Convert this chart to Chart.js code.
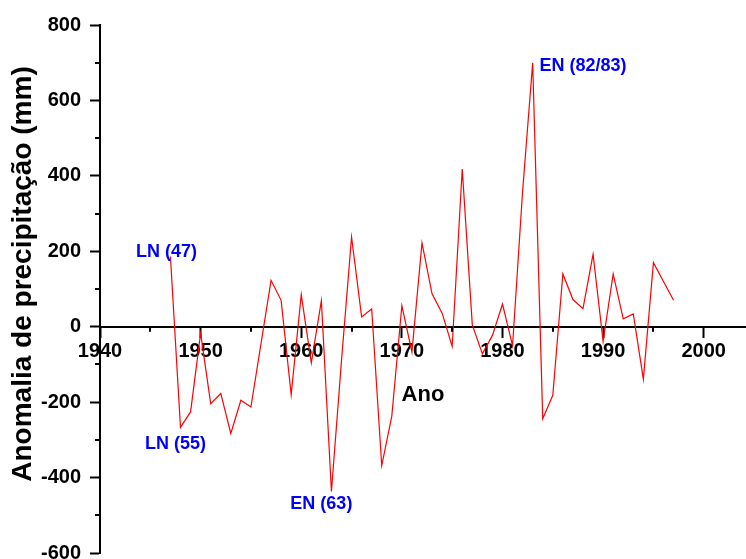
<!DOCTYPE html>
<html>
<head>
<meta charset="utf-8">
<script src="https://cdn.jsdelivr.net/npm/chart.js@4.4.1/dist/chart.umd.min.js"></script>
<style>
  html, body { margin: 0; padding: 0; background: #ffffff; }
  #wrap { position: relative; width: 746px; height: 559px; }
</style>
</head>
<body>
<div id="wrap"><canvas id="c"></canvas></div>
<script>
// ---- data ----
const years = [1947,1948,1949,1950,1951,1952,1953,1954,1955,1956,
               1957,1958,1959,1960,1961,1962,1963,1964,1965,1966,
               1967,1968,1969,1970,1971,1972,1973,1974,1975,1976,
               1977,1978,1979,1980,1981,1982,1983,1984,1985,1986,
               1987,1988,1989,1990,1991,1992,1993,1994,1995,1996,1997];
const anomalies = [186,-267,-226,-17,-204,-177,-283,-195,-213,-45,
                   123,70,-180,85,-96,69,-437,-90,238,26,
                   47,-368,-237,56,-67,222,87,36,-52,418,
                   5,-72,-23,60,-50,360,700,-244,-182,140,
                   72,48,192,-39,140,21,34,-139,170,120,70];
const xTicksMajor = [1940,1950,1960,1970,1980,1990,2000];
const xTicksMinor = [1945,1955,1965,1975,1985,1995];
const yTicksMajor = [-600,-400,-200,0,200,400,600,800];
const yTicksMinor = [-500,-300,-100,100,300,500,700];
const annotationTexts = ['LN (47)','LN (55)','EN (63)','EN (82/83)'];
const annotationYears = [1946.6,1947.5,1962.0,1988.0];
const annotationValues = [199,-310,-469,691];
const xTitle = 'Ano';
const yTitle = 'Anomalia de precipitação (mm)';

const FONT = "'Liberation Sans', Arial, Helvetica, sans-serif";

const minorTicks = {
  id: 'minorTicks',
  afterDraw(chart) {
    const ctx = chart.ctx;
    const xs = chart.scales.x, ys = chart.scales.y;
    const y0 = ys.getPixelForValue(0);
    const left = chart.chartArea.left;
    ctx.save();
    ctx.strokeStyle = '#000';
    ctx.lineWidth = 2;
    ctx.beginPath();
    xTicksMinor.forEach(v => {
      const px = Math.round(xs.getPixelForValue(v));
      ctx.moveTo(px, y0);
      ctx.lineTo(px, y0 + 5);
    });
    yTicksMinor.forEach(v => {
      const py = Math.round(ys.getPixelForValue(v));
      ctx.moveTo(left - 5, py);
      ctx.lineTo(left, py);
    });
    ctx.stroke();
    ctx.restore();
  }
};

const annotations = {
  id: 'annotations',
  afterDatasetsDraw(chart) {
    const ctx = chart.ctx;
    const xs = chart.scales.x, ys = chart.scales.y;
    ctx.save();
    ctx.fillStyle = '#0000ff';
    ctx.font = 'bold 18px ' + FONT;
    ctx.textAlign = 'center';
    ctx.textBaseline = 'middle';
    annotationTexts.forEach((t, i) => {
      ctx.fillText(t, xs.getPixelForValue(annotationYears[i]), ys.getPixelForValue(annotationValues[i]));
    });
    ctx.restore();
  }
};

const yTitlePlugin = {
  id: 'yTitlePlugin',
  afterDraw(chart) {
    const ctx = chart.ctx;
    const ca = chart.chartArea;
    ctx.save();
    ctx.translate(31, ca.top + 249);
    ctx.rotate(-Math.PI / 2);
    ctx.fillStyle = '#000';
    ctx.font = 'bold 28px ' + FONT;
    ctx.textAlign = 'center';
    ctx.textBaseline = 'alphabetic';
    ctx.fillText(yTitle, 0, 0);
    ctx.restore();
  }
};

const points = years.map((y, i) => ({ x: y, y: anomalies[i] }));

new Chart(document.getElementById('c'), {
  type: 'line',
  data: {
    datasets: [{
      data: points,
      borderColor: '#ff0000',
      borderWidth: 1.2,
      pointRadius: 0,
      tension: 0,
      fill: false
    }]
  },
  options: {
    responsive: true,
    maintainAspectRatio: false,
    animation: false,
    layout: { padding: { left: 0, top: 25, right: 0, bottom: 6 } },
    plugins: { legend: { display: false }, tooltip: { enabled: false } },
    scales: {
      x: {
        type: 'linear',
        position: { y: 0 },
        min: 1940,
        max: 2004.2,
        afterBuildTicks(scale) {
          scale.ticks = xTicksMajor.map(v => ({ value: v }));
        },
        afterFit(scale) { scale.paddingLeft = 0; scale.paddingRight = 0; },
        ticks: {
          includeBounds: false,
          padding: 3,
          color: '#000',
          font: { family: FONT, size: 20, weight: 'bold' },
          maxRotation: 0,
          autoSkip: false,
          callback: v => String(v)
        },
        grid: {
          display: true,
          drawOnChartArea: false,
          drawTicks: true,
          tickLength: 10,
          tickWidth: 2,
          tickColor: '#000'
        },
        border: { display: true, color: '#000', width: 2 },
        title: {
          display: true,
          text: xTitle,
          color: '#000',
          font: { family: FONT, size: 22, weight: 'bold' },
          padding: { top: 15, bottom: 0 }
        }
      },
      y: {
        type: 'linear',
        position: 'left',
        min: -600,
        max: 800,
        afterBuildTicks(scale) {
          scale.ticks = yTicksMajor.map(v => ({ value: v }));
        },
        afterFit(scale) { scale.width = 100; scale.paddingTop = 0; scale.paddingBottom = 0; },
        ticks: {
          padding: 9,
          color: '#000',
          font: { family: FONT, size: 20, weight: 'bold' },
          callback: v => String(v)
        },
        grid: {
          display: true,
          drawOnChartArea: false,
          drawTicks: true,
          tickLength: 10,
          tickWidth: 2,
          tickColor: '#000'
        },
        border: { display: true, color: '#000', width: 2 }
      }
    }
  },
  plugins: [minorTicks, annotations, yTitlePlugin]
});
</script>
</body>
</html>
